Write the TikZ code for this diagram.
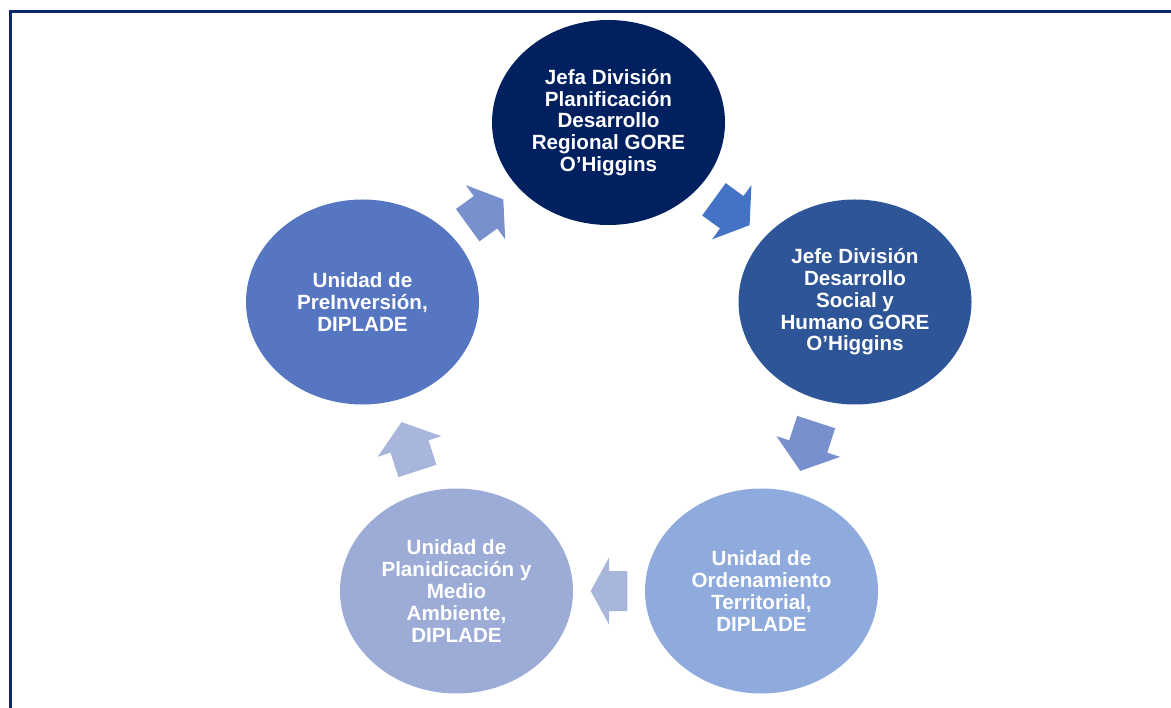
\documentclass[tikz,border=0pt]{standalone}
\usepackage{fontspec}
\setmainfont{Liberation Sans}
\usetikzlibrary{shapes.geometric}

\definecolor{marco}{HTML}{0B2767}
\definecolor{cjefa}{HTML}{002060}
\definecolor{cjefe}{HTML}{2E5597}
\definecolor{corden}{HTML}{8FAADC}
\definecolor{cmedio}{HTML}{9DACD7}
\definecolor{cpreinv}{HTML}{5676C1}
\definecolor{funo}{HTML}{4472C4}
\definecolor{fdos}{HTML}{7990CE}
\definecolor{ftres}{HTML}{A9B6DB}

\begin{document}
\begin{tikzpicture}[x=0.5pt,y=0.5pt,
	circ/.style={ellipse,minimum width=116.5pt,minimum height=102.5pt,inner sep=0pt,
		align=center,text=white,font=\bfseries\fontsize{10.3}{10.9}\selectfont},
	pics/flecha/.style={code={
		\fill (-#1,-20) -- (0,-20) -- (0,-33.5) -- (#1,0) -- (0,33.5) -- (0,20) -- (-#1,20) -- cycle;}}]
			\useasboundingbox (0,0) rectangle (1171,707);
			\clip (0,0) rectangle (1171,707);
			\draw[marco,line width=1.5pt] (10.5,695) rectangle (1200,-30);
			% los cinco circulos
			\node[circ,fill=cjefa] (jefa) at (608.5,584.5) {Jefa División\\Planificación\\Desarrollo\\Regional GORE\\O’Higgins};
			\node[circ,fill=cjefe] (jefe) at (855,405) {Jefe División\\Desarrollo\\Social y\\Humano GORE\\O’Higgins};
			\node[circ,fill=corden] (orden) at (761.5,116) {Unidad de\\Ordenamiento\\Territorial,\\DIPLADE};
			\node[circ,fill=cmedio] (medio) at (456.5,116) {Unidad de\\Planidicación y\\Medio\\Ambiente,\\DIPLADE};
			\node[circ,fill=cpreinv] (preinv) at (362.5,405) {Unidad de\\PreInversión,\\DIPLADE};
			% flechas entre circulos
			\path (jefa.center) -- (jefe.center) coordinate[midway] (f1);
			\path (jefe.center) -- (orden.center) coordinate[midway] (f2);
			\path (orden.center) -- (medio.center) coordinate[midway] (f3);
			\path (medio.center) -- (preinv.center) coordinate[midway] (f4);
			\path (preinv.center) -- (jefa.center) coordinate[midway] (f5);
			\pic[fill=funo,rotate=-36] at (f1) {flecha=22};
			\pic[fill=fdos,rotate=-108] at (f2) {flecha=25.7};
			\pic[fill=ftres,rotate=180] at (f3) {flecha=18.3};
			\pic[fill=ftres,rotate=108] at (f4) {flecha=25.7};
			\pic[fill=fdos,rotate=36] at (f5) {flecha=22};
		\end{tikzpicture}
\end{document}
